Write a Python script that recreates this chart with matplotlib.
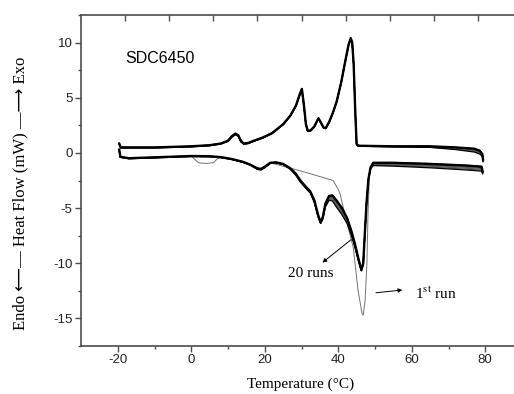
import matplotlib
matplotlib.use("Agg")
import matplotlib.pyplot as plt
import numpy as np

# ---------------- data ----------------
# cooling (exothermic, upper) trace of the 20 runs
cool_T = [-19.6, -19.2, -10, 0, 5, 8, 10, 11, 12, 12.8, 13.5, 14.3, 15.5, 17, 19.5, 22, 25, 27,
          28.5, 29.5, 30.1, 30.6, 31.2, 31.7, 32.5, 33.5, 34.6, 35.2, 36.0, 36.6, 37.5, 38.5,
          39.6, 40.8, 41.9, 42.8, 43.4, 43.8, 44.2, 44.6, 45.0, 45.5, 55, 65, 72, 77, 78.5, 79.2, 79.4]
cool_HF = [0.85, 0.5, 0.5, 0.6, 0.7, 0.85, 1.1, 1.5, 1.75, 1.6, 1.1, 0.85, 0.9, 1.1, 1.4, 1.8, 2.6, 3.4,
           4.3, 5.3, 5.8, 4.5, 2.6, 2.0, 2.05, 2.4, 3.15, 2.8, 2.3, 2.25, 2.8, 3.6,
           4.7, 6.4, 8.3, 9.8, 10.4, 10.0, 8.0, 4.0, 0.8, 0.65, 0.6, 0.6, 0.5, 0.38, 0.2, -0.1, -0.6]
# run-to-run spread of the cooling trace at each point (mW)
cool_spread = [0.05, 0.05, 0.05, 0.05, 0.05, 0.05, 0.05, 0.1, 0.1, 0.1, 0.1, 0.05, 0.05, 0.05, 0.05, 0.05, 0.05, 0.05,
               0.05, 0.1, 0.1, 0.1, 0.05, 0.05, 0.05, 0.05, 0.05, 0.05, 0.05, 0.05, 0.05, 0.05,
               0.05, 0.05, 0.05, 0.05, 0.05, 0.05, 0.05, 0.05, 0.05, 0.05, 0.05, 0.1, 0.2, 0.3, 0.3, 0.2, 0.2]

# heating (endothermic, lower) trace of the 20 runs
heat_T = [-19.6, -19.3, -17, -10, 0, 5, 8, 11, 14, 16, 18, 19, 20, 21.5, 23, 25, 27, 28.5, 29.7, 31,
          32.4, 33.5, 34.5, 35.2, 35.8, 36.5, 37.5, 38.4, 39.5, 41, 42.4, 43.5, 44.5, 45.5, 46.3,
          46.8, 47.2, 47.7, 48.2, 48.8, 49.5, 55, 65, 75, 79, 79.3]
heat_HF = [0.3, -0.35, -0.48, -0.4, -0.28, -0.3, -0.38, -0.55, -0.8, -1.05, -1.4, -1.45, -1.25, -0.9, -0.85,
           -1.0, -1.4, -1.9, -2.5, -3.0, -3.5, -4.3, -5.6, -6.3, -5.8, -4.6, -3.9, -3.85, -4.3, -5.0,
           -5.9, -7.0, -8.2, -9.6, -10.6, -10.0, -7.5, -4.5, -2.4, -1.3, -0.9, -0.9, -1.0, -1.15, -1.25, -1.7]
heat_spread = [0.05, 0.05, 0.05, 0.05, 0.05, 0.05, 0.05, 0.05, 0.05, 0.05, 0.1, 0.1, 0.1, 0.05, 0.05,
               0.05, 0.1, 0.15, 0.15, 0.15, 0.15, 0.2, 0.2, 0.1, 0.2, 0.3, 0.4, 0.5, 0.6, 0.6,
               0.5, 0.4, 0.3, 0.2, 0.1, 0.1, 0.1, 0.1, 0.1, 0.15, 0.25, 0.3, 0.35, 0.4, 0.4, 0.2]
run_fraction = [0.0, 0.2, 0.4, 0.6, 0.8, 1.0]

# heating trace of the 1st run (thin line)
first_T = [-19.6, -19.3, -17, -10, 0, 1, 2, 4, 6, 7, 8, 11, 14, 16, 18, 19, 20, 21.5, 30, 38.6, 40, 40.5,
           41.4, 44.1, 45.4, 46.5, 46.8, 47.3, 47.8, 48.1, 48.5, 49.5, 55, 65, 75, 79, 79.3]
first_HF = [0.3, -0.35, -0.48, -0.4, -0.28, -0.6, -0.9, -0.95, -0.9, -0.55, -0.38, -0.55, -0.8, -1.05, -1.4,
            -1.45, -1.25, -0.9, -1.65, -2.5, -3.3, -3.7, -5.0, -8.6, -12.5, -14.6, -14.7, -13.4, -10.0,
            -5.5, -1.8, -0.85, -0.85, -0.95, -1.1, -1.2, -1.7]

x_ticks = [-20, 0, 20, 40, 60, 80]
y_ticks = [-15, -10, -5, 0, 5, 10]
top_ticks = [-18, -6, 6, 18, 30, 42, 54, 66, 78, 90]

# ---------------- figure ----------------
plt.rcParams['mathtext.fontset'] = 'stix'
plt.rcParams['axes.unicode_minus'] = False
fig = plt.figure(figsize=(5.14, 3.94), dpi=100)
ax = fig.add_axes([81 / 514, 48 / 394, 441 / 514, 331 / 394])

cT = np.array(cool_T); cH = np.array(cool_HF); cS = np.array(cool_spread)
hT = np.array(heat_T); hH = np.array(heat_HF); hS = np.array(heat_spread)

for f in run_fraction:
    shade = '0.35' if f not in (0.0, 1.0) else 'black'
    ax.plot(cT, cH - f * cS, color=shade, lw=0.9, zorder=3)
    ax.plot(hT, hH - f * hS, color=shade, lw=0.9, zorder=3)
ax.plot(cT, cH, color='black', lw=1.7, zorder=4)
ax.plot(hT, hH, color='black', lw=1.7, zorder=4)
ax.plot(first_T, first_HF, color='0.45', lw=0.7, zorder=2)

ax.set_xlim(-30, 90)
ax.set_ylim(-17.5, 12.5)
ax.set_xticks(x_ticks)
ax.set_yticks(y_ticks)
ax.set_xticks([-10, 10, 30, 50, 70], minor=True)
ax.set_yticks([-17.5, -12.5, -7.5, -2.5, 2.5, 7.5, 12.5], minor=True)

spine_col = '0.3'
for s in ['left', 'bottom', 'top']:
    ax.spines[s].set_color(spine_col)
    ax.spines[s].set_linewidth(1.2)
ax.spines['right'].set_visible(False)
ax.tick_params(axis='both', which='major', direction='out', length=4, width=1.0,
               color=spine_col, labelsize=9.5, labelcolor='#222222', pad=2)
ax.tick_params(axis='both', which='minor', direction='out', length=2.5, width=1.0, color=spine_col)
for lbl in ax.get_xticklabels() + ax.get_yticklabels():
    lbl.set_family('Liberation Sans')

sec = ax.secondary_xaxis('top')
sec.set_xticks(top_ticks)
sec.set_xticklabels([])
sec.tick_params(direction='in', length=4, width=1.0, color=spine_col)
sec.spines['top'].set_visible(False)

ax.text(-18.0, 8.6, 'SDC6450', family='Liberation Sans', fontsize=11.5, va='center', ha='left')

ax.annotate('', xy=(35.1, -10.1), xytext=(44.1, -7.7),
            arrowprops=dict(arrowstyle='-|>', color='black', lw=0.7, mutation_scale=6))
ax.text(32.4, -10.9, '20 runs', family='Liberation Serif', fontsize=11, ha='center', va='center')
ax.annotate('', xy=(58.2, -12.4), xytext=(49.5, -12.7),
            arrowprops=dict(arrowstyle='-|>', color='black', lw=0.7, mutation_scale=6))
ax.text(61.0, -12.8, r'1$^{\mathrm{st}}$ run', family='Liberation Serif', fontsize=11,
        ha='left', va='center')

fig.text(301 / 514, 1 - 384 / 394, 'Temperature (°C)', family='Liberation Serif', fontsize=11,
         ha='center', va='center')
fig.text(20 / 514, 1 - 193 / 394, 'Endo \u27F5\u2014 Heat Flow (mW) \u2014\u27F6 Exo',
         family=['Liberation Serif', 'DejaVu Sans'], fontsize=12, rotation=90,
         ha='center', va='center')

fig.savefig('out.png', dpi=100)
